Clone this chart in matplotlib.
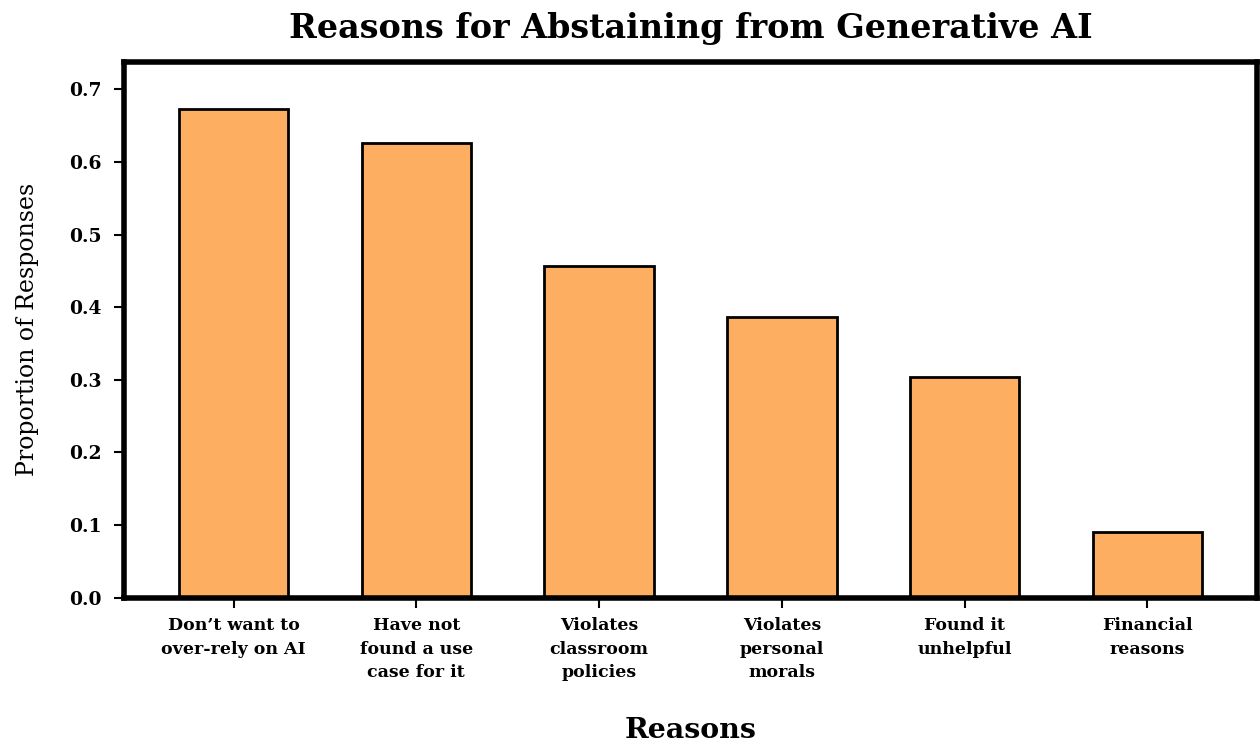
import numpy as np
import matplotlib
matplotlib.use("Agg")
import matplotlib.pyplot as plt

reasons = ["Don\u2019t want to\nover-rely on AI", "Have not\nfound a use\ncase for it",
           "Violates\nclassroom\npolicies", "Violates\npersonal\nmorals",
           "Found it\nunhelpful", "Financial\nreasons"]
proportions = [0.673, 0.626, 0.457, 0.386, 0.304, 0.090]
yticks = [0.0, 0.1, 0.2, 0.3, 0.4, 0.5, 0.6, 0.7]

plt.rcParams['font.family'] = ['DejaVu Serif']

fig = plt.figure(figsize=(12.6, 7.48), dpi=100)
ax = fig.add_axes([0.0984, 0.2009, 0.8992, 0.7162])

x = np.arange(len(reasons))
ax.bar(x, proportions, width=0.6, color='#FDAE61', edgecolor='black', linewidth=2)

ax.set_xlim(-0.6, 5.6)
ax.set_ylim(0, 0.7375)
ax.set_xticks(x)
ax.set_xticklabels(reasons, fontsize=12.5, fontweight='bold', linespacing=1.5)
ax.set_yticks(yticks)
ax.set_yticklabels(['%.1f' % v for v in yticks], fontsize=13.5, fontweight='bold')
ax.tick_params(axis='both', length=7, width=1.5)
ax.tick_params(axis='y', pad=9)
ax.tick_params(axis='x', pad=7)

for s in ax.spines.values():
    s.set_linewidth(4)

ax.set_title('Reasons for Abstaining from Generative AI', fontsize=24, fontweight='bold', pad=17)
ax.set_xlabel('Reasons', fontsize=20.5, fontweight='bold', labelpad=26)
ax.set_ylabel('Proportion of Responses', fontsize=17, labelpad=22)

fig.savefig('out.png', dpi=100)
